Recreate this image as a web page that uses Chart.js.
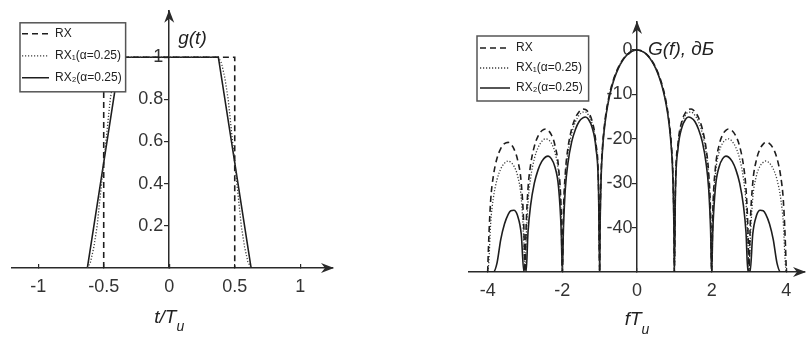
<!DOCTYPE html>
<html lang="ru">
<head>
<meta charset="utf-8">
<title>g(t) и G(f)</title>
<script src="https://cdn.jsdelivr.net/npm/chart.js@4.4.1/dist/chart.umd.min.js"></script>
<style>
  body { margin: 0; background: #fff; }
  .wrap { position: relative; width: 806px; height: 338px; overflow: hidden; }
  #pulse-chart { position: absolute; left: 0; top: 0; }
  #spectrum-chart { position: absolute; left: 420px; top: 0; }
</style>
</head>
<body>
<div class="wrap">
  <canvas id="pulse-chart" width="420" height="338"></canvas>
  <canvas id="spectrum-chart" width="386" height="338"></canvas>
</div>

<script>
/* ---- pulse shapes g(t), t in units of T_u ---- */
const tRX  = [-0.5, -0.5, 0.5, 0.5];
const gRX  = [0, 1, 1, 0];
const tRX1 = [-0.625, -0.6, -0.575, -0.55, -0.525, -0.5, -0.475, -0.45, -0.425, -0.4, -0.375,
              0.375, 0.4, 0.425, 0.45, 0.475, 0.5, 0.525, 0.55, 0.575, 0.6, 0.625];
const gRX1 = [0, 0.03, 0.1, 0.2, 0.35, 0.5, 0.65, 0.8, 0.9, 0.97, 1,
              1, 0.97, 0.9, 0.8, 0.65, 0.5, 0.35, 0.2, 0.1, 0.03, 0];
const tRX2 = [-0.625, -0.375, 0.375, 0.625];
const gRX2 = [0, 1, 1, 0];
const tTicks = [-1, -0.5, 0, 0.5, 1];
const gTicks = [0.2, 0.4, 0.6, 0.8, 1];

/* ---- spectra G(f) in dB, read for f >= 0 (the plot is symmetric) ---- */
const fHalf = [0, 0.1, 0.2, 0.3, 0.4, 0.5, 0.6, 0.68, 0.75, 0.82, 0.88, 0.92, 0.96, 0.99, 1,
  1.03, 1.1, 1.2, 1.3, 1.38, 1.45, 1.55, 1.65, 1.75, 1.85, 1.92, 1.97, 2,
  2.03, 2.1, 2.2, 2.3, 2.38, 2.45, 2.55, 2.65, 2.75, 2.85, 2.92, 2.97, 3,
  3.03, 3.1, 3.2, 3.3, 3.38, 3.45, 3.55, 3.65, 3.75, 3.85, 3.92, 3.97, 4];
const dbRX = [0, -0.14, -0.58, -1.33, -2.42, -3.92, -5.94, -8.06, -10.45, -13.64, -17.51, -21.31, -27.63, -39.9, -50,
  -30.7, -21.0, -16.1, -14.1, -13.4, -13.3, -13.9, -15.3, -17.8, -22.1, -27.7, -36.4, -50,
  -36.6, -26.6, -21.4, -19.0, -18.1, -17.8, -18.2, -19.4, -21.7, -25.9, -31.3, -39.9, -50,
  -40.1, -30.0, -24.7, -22.2, -21.2, -20.8, -21.1, -22.2, -24.4, -28.5, -33.9, -42.5, -50];
const dbRX1 = [0, -0.14, -0.6, -1.35, -2.5, -4.0, -6.1, -8.2, -10.7, -13.9, -17.9, -21.7, -28.1, -40.3, -50,
  -31.2, -21.5, -16.7, -14.7, -14.0, -14.0, -14.7, -16.2, -18.8, -23.2, -28.9, -37.6, -50,
  -37.9, -28.0, -23.0, -20.9, -20.2, -20.0, -20.6, -22.0, -24.5, -28.9, -34.4, -43.1, -50,
  -43.4, -33.4, -28.3, -26.1, -25.3, -25.0, -25.5, -26.8, -29.2, -33.5, -39.1, -47.8, -50];
const dbRX2 = [0, -0.15, -0.62, -1.41, -2.56, -4.14, -6.26, -8.48, -10.96, -14.25, -18.21, -22.08, -28.47, -40.8, -50,
  -31.7, -22.1, -17.5, -15.6, -15.1, -15.3, -16.1, -17.9, -20.7, -25.5, -31.3, -40.2, -50,
  -40.7, -31.0, -26.3, -24.4, -23.9, -24.1, -25.1, -27.0, -30.0, -35.0, -41.1, -50, -50,
  -50, -41.5, -37.3, -36.1, -36.2, -37.0, -39.2, -42.7, -48.0, -50, -50, -50, -50];
const fTicks  = [-4, -2, 0, 2, 4];
const dbTicks = [-40, -30, -20, -10, 0];

const seriesNames = ['RX', 'RX\u2081(\u03b1=0.25)', 'RX\u2082(\u03b1=0.25)'];
</script>

<script>
const FONT = '"Liberation Sans", Arial, Helvetica, sans-serif';
const AXIS = '#2a2a2a';

const lineStyles = [
  { borderColor: '#1e1e1e', borderWidth: 1.6, borderDash: [6, 4] },
  { borderColor: '#3c3c3c', borderWidth: 1.3, borderDash: [1.2, 1.8] },
  { borderColor: '#1e1e1e', borderWidth: 1.6, borderDash: [] }
];

function pairs(xs, ys) {
  return xs.map((x, i) => ({ x: x, y: ys[i] }));
}

/* negative half of the spectrum is the mirror image of the positive one */
function mirrored(xs, ys) {
  const left = [];
  for (let i = xs.length - 1; i > 0; i--) left.push({ x: -xs[i], y: ys[i] });
  return left.concat(pairs(xs, ys));
}

function makeDataset(i, data, extra) {
  return Object.assign({ label: seriesNames[i], data: data, pointRadius: 0, fill: false }, lineStyles[i], extra || {});
}

function legendItems(chart) {
  return chart.data.datasets.map((ds, i) => ({
    text: ds.label,
    datasetIndex: i,
    pointStyle: 'line',
    lineDash: ds.borderDash,
    lineWidth: ds.borderWidth,
    strokeStyle: ds.borderColor,
    fillStyle: ds.borderColor,
    fontColor: '#222',
    hidden: false
  }));
}

function arrow(ctx, x, y, angle) {
  ctx.save();
  ctx.translate(x, y);
  ctx.rotate(angle);
  ctx.beginPath();
  ctx.moveTo(1, 0);
  ctx.lineTo(-12, -5);
  ctx.lineTo(-8, 0);
  ctx.lineTo(-12, 5);
  ctx.closePath();
  ctx.fill();
  ctx.restore();
}

/* text made of parts: [text, size, dy] - used for subscripts */
function drawParts(ctx, parts, x, y, center) {
  let w = 0;
  parts.forEach(p => { ctx.font = 'italic ' + p[1] + 'px ' + FONT; w += ctx.measureText(p[0]).width; });
  let cx = center ? x - w / 2 : x;
  parts.forEach(p => {
    ctx.font = 'italic ' + p[1] + 'px ' + FONT;
    ctx.fillText(p[0], cx, y + p[2]);
    cx += ctx.measureText(p[0]).width;
  });
}

const decor = {
  id: 'decor',
  afterLayout(chart, args, opts) {
    const lg = chart.legend, a = chart.chartArea;
    lg.left = a.left + opts.legendShift[0];
    lg.top = a.top + opts.legendShift[1];
    lg.right = lg.left + lg.width;
    lg.bottom = lg.top + lg.height;
  },
  afterDatasetsDraw(chart, args, opts) {
    const ctx = chart.ctx, a = chart.chartArea;
    const x0 = chart.scales.x.getPixelForValue(0);
    ctx.save();
    ctx.fillStyle = AXIS;
    arrow(ctx, a.right, a.bottom, 0);
    arrow(ctx, x0, a.top, -Math.PI / 2);

    ctx.fillStyle = '#222';
    ctx.textBaseline = 'middle';
    drawParts(ctx, opts.xTitle, x0, a.bottom + opts.xTitleDy, true);
    drawParts(ctx, opts.yTitle, x0 + opts.yTitleDx, a.top + opts.yTitleDy, false);

    // framed legend on top of the curves
    const hb = chart.legend.legendHitBoxes;
    const p = opts.framePad;
    const l = Math.min(...hb.map(h => h.left)) - p[0];
    const t = Math.min(...hb.map(h => h.top)) - p[1];
    const r = Math.max(...hb.map(h => h.left + h.width)) + p[2];
    const b = Math.max(...hb.map(h => h.top + h.height)) + p[3];
    ctx.fillStyle = '#fff';
    ctx.fillRect(l, t, r - l, b - t);
    ctx.strokeStyle = '#555';
    ctx.lineWidth = 1.5;
    ctx.strokeRect(l, t, r - l, b - t);
    ctx.restore();
    chart.legend.draw();
  }
};

function scaleX(min, max, ticks) {
  return {
    type: 'linear', min: min, max: max, position: 'bottom',
    afterBuildTicks: s => { s.ticks = ticks.map(v => ({ value: v })); },
    afterFit: s => { s.height = 30; },
    grid: { drawOnChartArea: false, tickLength: -4, color: AXIS, lineWidth: 1.2 },
    border: { color: AXIS, width: 1.5 },
    ticks: { font: { family: FONT, size: 18 }, color: '#333', padding: 12, maxRotation: 0, autoSkip: false,
             callback: v => String(v) }
  };
}

/* the y axis line with its tick marks, sitting on x = 0 */
function scaleY(min, max, ticks) {
  return {
    type: 'linear', min: min, max: max, position: { x: 0 },
    afterBuildTicks: s => { s.ticks = ticks.map(v => ({ value: v })); },
    afterFit: s => { s.width = 0; },
    grid: { drawOnChartArea: false, tickLength: 4, color: AXIS, lineWidth: 1.2 },
    border: { color: AXIS, width: 1.5 },
    ticks: { display: false }
  };
}

/* same y range, only the tick labels, set a little left of the axis line */
function scaleYLabels(min, max, ticks, at) {
  return {
    type: 'linear', min: min, max: max, position: { x: at },
    afterBuildTicks: s => { s.ticks = ticks.map(v => ({ value: v })); },
    afterFit: s => { s.width = 0; },
    grid: { display: false },
    border: { display: false },
    ticks: { font: { family: FONT, size: 18 }, color: '#333', padding: 0, autoSkip: false,
             callback: v => String(v) }
  };
}

function makeOptions(cfg) {
  return {
    responsive: false,
    animation: false,
    events: [],
    layout: { padding: cfg.padding },
    scales: { x: cfg.x, y: cfg.y, yLabels: cfg.yLabels },
    plugins: {
      tooltip: { enabled: false },
      legend: {
        position: 'chartArea', align: 'start',
        labels: { usePointStyle: true, pointStyleWidth: cfg.sampleWidth, boxHeight: 12, padding: cfg.legendGap,
                  font: { family: FONT, size: 12 }, color: '#222', generateLabels: legendItems }
      },
      decor: cfg.decor
    }
  };
}

/* left: pulse shapes */
new Chart(document.getElementById('pulse-chart'), {
  type: 'line',
  data: { datasets: [
    makeDataset(0, pairs(tRX, gRX)),
    makeDataset(1, pairs(tRX1, gRX1)),
    makeDataset(2, pairs(tRX2, gRX2))
  ] },
  options: makeOptions({
    padding: { left: 12, right: 87, top: 10, bottom: 40 },
    x: scaleX(-1.2, 1.25, tTicks),
    y: scaleY(0, 1.22, gTicks),
    yLabels: scaleYLabels(0, 1.22, gTicks, -0.046),
    legendGap: 10,
    sampleWidth: 27,
    decor: {
      legendShift: [0, 7], framePad: [2, 5, 4, 8],
      xTitle: [['t/T', 19, 0], ['u', 14, 9]], xTitleDy: 50,
      yTitle: [['g(t)', 19, 0]], yTitleDx: 9, yTitleDy: 28
    }
  }),
  plugins: [decor]
});

/* right: spectra */
new Chart(document.getElementById('spectrum-chart'), {
  type: 'line',
  data: { datasets: [
    makeDataset(0, mirrored(fHalf, dbRX), { cubicInterpolationMode: 'monotone' }),
    makeDataset(1, mirrored(fHalf, dbRX1), { cubicInterpolationMode: 'monotone' }),
    makeDataset(2, mirrored(fHalf, dbRX2), { cubicInterpolationMode: 'monotone' })
  ] },
  options: makeOptions({
    padding: { left: 49, right: 1, top: 22, bottom: 36 },
    x: scaleX(-4.5, 4.5, fTicks),
    y: scaleY(-50, 6.3, dbTicks),
    yLabels: scaleYLabels(-50, 6.3, dbTicks, -0.12),
    legendGap: 8,
    sampleWidth: 30,
    decor: {
      legendShift: [3, 12], framePad: [3, 6, 6, 7],
      xTitle: [['fT', 19, 0], ['u', 14, 10]], xTitleDy: 48,
      yTitle: [['G(f), дБ', 19, 0]], yTitleDx: 11, yTitleDy: 28
    }
  }),
  plugins: [decor]
});
</script>
</body>
</html>
